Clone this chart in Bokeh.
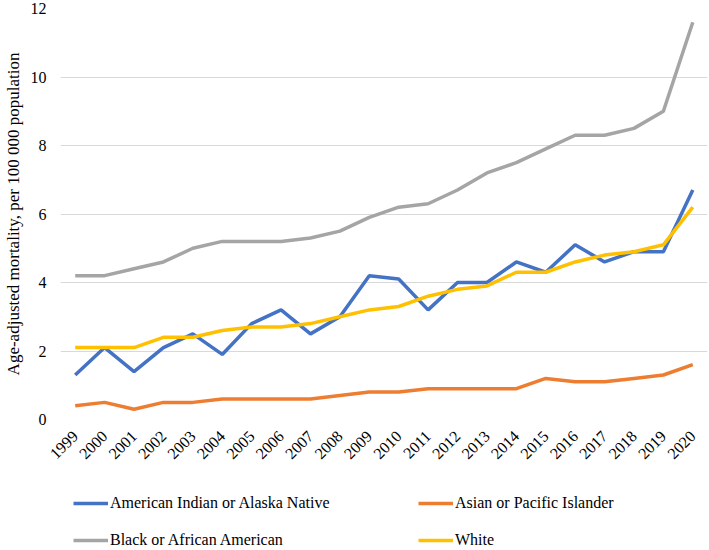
from bokeh.plotting import figure
from bokeh.models import Legend, LegendItem, FixedTicker
from bokeh.layouts import column
from bokeh.embed import file_html
from bokeh.resources import INLINE
import math

years = list(range(1999, 2021))
aian = [1.3, 2.1, 1.4, 2.1, 2.5, 1.9, 2.8, 3.2, 2.5, 3.0, 4.2, 4.1, 3.2, 4.0, 4.0, 4.6, 4.3, 5.1, 4.6, 4.9, 4.9, 6.7]
api = [0.4, 0.5, 0.3, 0.5, 0.5, 0.6, 0.6, 0.6, 0.6, 0.7, 0.8, 0.8, 0.9, 0.9, 0.9, 0.9, 1.2, 1.1, 1.1, 1.2, 1.3, 1.6]
black = [4.2, 4.2, 4.4, 4.6, 5.0, 5.2, 5.2, 5.2, 5.3, 5.5, 5.9, 6.2, 6.3, 6.7, 7.2, 7.5, 7.9, 8.3, 8.3, 8.5, 9.0, 11.6]
white = [2.1, 2.1, 2.1, 2.4, 2.4, 2.6, 2.7, 2.7, 2.8, 3.0, 3.2, 3.3, 3.6, 3.8, 3.9, 4.3, 4.3, 4.6, 4.8, 4.9, 5.1, 6.2]
series_names = ["American Indian or Alaska Native", "Asian or Pacific Islander",
                "Black or African American", "White"]
series_values = [aian, api, black, white]
colors = ["#4472C4", "#ED7D31", "#A5A5A5", "#FFC000"]
y_ticks = [0, 2, 4, 6, 8, 10, 12]
y_title = "Age-adjusted mortality, per 100 000 population"

FONT = "Liberation Serif"
LW = 3.5

p = figure(width=709, height=473, x_range=(1998.5, 2020.5), y_range=(0, 12),
           output_backend="svg", toolbar_location=None,
           min_border_left=57, min_border_right=2, min_border_top=8, min_border_bottom=54)
p.outline_line_color = None
p.background_fill_color = "white"
p.border_fill_color = "white"

for name, vals, c in zip(series_names, series_values, colors):
    p.line(years, vals, line_color=c, line_width=LW)

p.xgrid.grid_line_color = None
p.ygrid.grid_line_color = "#D9D9D9"
p.ygrid.grid_line_width = 1

p.xaxis.ticker = FixedTicker(ticks=years)
p.yaxis.ticker = FixedTicker(ticks=y_ticks)
for ax in (p.xaxis[0], p.yaxis[0]):
    ax.axis_line_color = None
    ax.major_tick_line_color = None
    ax.minor_tick_line_color = None
    ax.major_tick_out = 0
    ax.major_tick_in = 0
    ax.major_label_text_font = FONT
    ax.major_label_text_font_size = "16px"
    ax.major_label_text_color = "#000000"

p.xaxis.major_label_orientation = math.pi / 4
p.xaxis.major_label_standoff = 14
p.yaxis.major_label_standoff = 14
p.yaxis.axis_label = y_title
p.yaxis.axis_label_text_font = FONT
p.yaxis.axis_label_text_font_size = "17px"
p.yaxis.axis_label_text_font_style = "normal"
p.yaxis.axis_label_text_color = "#000000"
p.yaxis.axis_label_standoff = 5

# Legend in its own strip below the chart (series lines lie outside its view)
lg = figure(width=709, height=77, x_range=(0, 1), y_range=(100, 101),
            x_axis_type=None, y_axis_type=None,
            output_backend="svg", toolbar_location=None,
            min_border_left=0, min_border_right=0, min_border_top=0, min_border_bottom=0)
lg.grid.visible = False
lg.outline_line_color = None
lg.background_fill_color = "white"
lg.border_fill_color = "white"

items = []
for name, vals, c in zip(series_names, series_values, colors):
    r = lg.line(years, vals, line_color=c, line_width=LW)
    items.append(LegendItem(label=name, renderers=[r]))

legend = Legend(items=items, ncols=2, orientation="horizontal", location=(13, 0),
                label_text_font=FONT, label_text_font_size="16px", label_text_color="#000000",
                glyph_width=35, glyph_height=20, label_height=20, label_standoff=2,
                label_width=291, spacing=17, padding=0, margin=0,
                border_line_color=None, background_fill_alpha=0)
lg.add_layout(legend, "center")

layout = column(p, lg, spacing=0)
open("out.html", "w").write(file_html(layout, INLINE))
